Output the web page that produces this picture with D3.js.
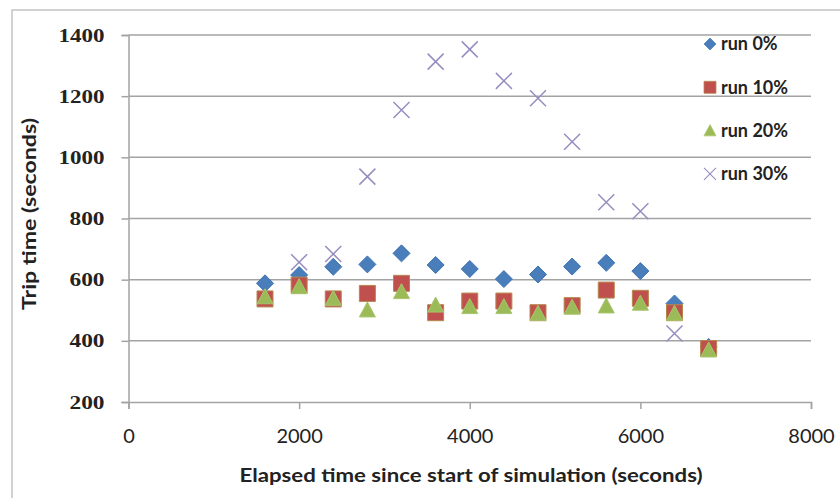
<!DOCTYPE html>
<html>
<head>
<meta charset="utf-8">
<script src="https://cdn.jsdelivr.net/npm/d3@7"></script>
<style>
  body { margin: 0; background: #fff; }
  svg { display: block; }
</style>
</head>
<body>
<div id="chart"></div>
<script>
// elapsed time (s) of each sample
const times = [1600, 2000, 2400, 2800, 3200, 3600, 4000, 4400, 4800, 5200, 5600, 6000, 6400, 6800];
// trip times (s) per run, null = no point
const run0  = [588, 615, 642, 650, 686, 648, 635, 602, 617, 643, 655, 628, 522, 380];
const run10 = [537, 582, 537, 555, 588, 492, 530, 530, 492, 515, 566, 539, 492, 375];
const run20 = [544, 577, 539, 501, 561, 517, 512, 512, 490, 510, 514, 523, 490, 370];
const run30 = [null, 657, 684, 937, 1155, 1313, 1353, 1250, 1193, 1051, 853, 824, 424, null];

const seriesNames = ['run 0%', 'run 10%', 'run 20%', 'run 30%'];
const xTicks = [0, 2000, 4000, 6000, 8000];
const yTicks = [200, 400, 600, 800, 1000, 1200, 1400];

const width = 840, height = 498;
const svg = d3.select('#chart').append('svg')
  .attr('width', width)
  .attr('height', height);

// outer frame
svg.append('rect')
  .attr('x', 12).attr('y', 10)
  .attr('width', 840).attr('height', 500)
  .attr('fill', 'none')
  .attr('stroke', '#c4c4c4')
  .attr('stroke-width', 1.5);

const x = d3.scaleLinear().domain([0, 8000]).range([128.5, 811]);
const y = d3.scaleLinear().domain([200, 1400]).range([402, 35]);

const grey = '#a3a3a3';
const fmt = d3.format('d');

// gridlines
svg.append('g').selectAll('line')
  .data(yTicks.filter(d => d > 200))
  .enter().append('line')
  .attr('x1', x(0)).attr('x2', x(8000))
  .attr('y1', d => y(d)).attr('y2', d => y(d))
  .attr('stroke', grey).attr('stroke-width', 1.5);

// y axis
const yAxis = svg.append('g')
  .attr('transform', `translate(${x(0)},0)`)
  .call(d3.axisLeft(y).tickValues(yTicks).tickFormat(fmt).tickSize(7).tickPadding(17));
yAxis.select('.domain').attr('stroke', grey).attr('stroke-width', 1.5);
yAxis.selectAll('.tick line').attr('stroke', grey).attr('stroke-width', 1.5);
yAxis.selectAll('.tick text')
  .attr('font-family', '"Liberation Serif", serif')
  .attr('font-weight', 'bold')
  .attr('font-size', 19)
  .attr('fill', '#222')
  .attr('textLength', 46)
  .attr('lengthAdjust', 'spacingAndGlyphs');
yAxis.selectAll('.tick text').filter(d => d < 1000).attr('textLength', 35);

// x axis
const xAxis = svg.append('g')
  .attr('transform', `translate(0,${y(200)})`)
  .call(d3.axisBottom(x).tickValues(xTicks).tickFormat(fmt).tickSize(7).tickPadding(20));
xAxis.select('.domain').attr('stroke', grey).attr('stroke-width', 1.5);
xAxis.selectAll('.tick line').attr('stroke', grey).attr('stroke-width', 1.5);
xAxis.selectAll('.tick text')
  .attr('font-family', 'Lato, sans-serif')
  .attr('font-size', 20)
  .attr('fill', '#222');

// axis titles
svg.append('text')
  .attr('transform', `translate(36,214) rotate(-90)`)
  .attr('text-anchor', 'middle')
  .attr('font-family', 'Lato, sans-serif')
  .attr('font-weight', 'bold')
  .attr('font-size', 18)
  .attr('fill', '#222')
  .attr('textLength', 192)
  .attr('lengthAdjust', 'spacingAndGlyphs')
  .text('Trip time (seconds)');

svg.append('text')
  .attr('x', 471).attr('y', 482)
  .attr('text-anchor', 'middle')
  .attr('font-family', 'Lato, sans-serif')
  .attr('font-weight', 'bold')
  .attr('font-size', 18)
  .attr('fill', '#222')
  .attr('textLength', 463)
  .attr('lengthAdjust', 'spacingAndGlyphs')
  .text('Elapsed time since start of simulation (seconds)');

// marker shapes
const shapes = [
  { d: (cx, cy) => `M${cx},${cy - 8.5}L${cx + 8.5},${cy}L${cx},${cy + 8.5}L${cx - 8.5},${cy}Z`,
    fill: '#4a7ebb', stroke: '#3f74b3', sw: 1 },
  { d: (cx, cy) => `M${cx - 8},${cy - 8}h16v16h-16Z`,
    fill: '#c0504d', stroke: '#b5874d', sw: 1 },
  { d: (cx, cy) => `M${cx},${cy - 8}L${cx + 8},${cy + 7}L${cx - 8},${cy + 7}Z`,
    fill: '#9bbb59', stroke: '#a9c46b', sw: 1 },
  { d: (cx, cy) => `M${cx - 8},${cy - 8}L${cx + 8},${cy + 8}M${cx + 8},${cy - 8}L${cx - 8},${cy + 8}`,
    fill: 'none', stroke: '#978cc0', sw: 1.5 }
];

const allRuns = [run0, run10, run20, run30];

allRuns.forEach((vals, i) => {
  const pts = times.map((t, j) => ({ t: t, v: vals[j] })).filter(p => p.v != null);
  const s = shapes[i];
  svg.append('g').selectAll('path')
    .data(pts)
    .enter().append('path')
    .attr('d', p => s.d(x(p.t), y(p.v)))
    .attr('fill', s.fill)
    .attr('stroke', s.stroke)
    .attr('stroke-width', s.sw);
});

// legend
const legend = svg.append('g');
seriesNames.forEach((name, i) => {
  const ly = 44 + i * 43.3;
  const s = shapes[i];
  const scale = i === 0 ? 0.7 : 0.75;
  legend.append('path')
    .attr('transform', `translate(710,${ly}) scale(${scale})`)
    .attr('d', s.d(0, 0))
    .attr('fill', s.fill)
    .attr('stroke', s.stroke)
    .attr('stroke-width', s.sw);
  legend.append('text')
    .attr('x', 721).attr('y', ly)
    .attr('dy', '0.35em')
    .attr('font-family', 'Lato, sans-serif')
    .attr('font-weight', 'bold')
    .attr('font-size', 18)
    .attr('fill', '#222')
    .text(name);
});
</script>
</body>
</html>
